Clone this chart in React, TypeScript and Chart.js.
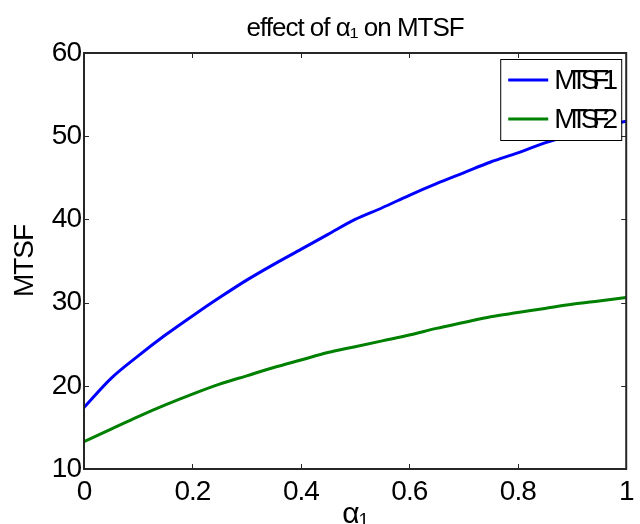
import React, { useEffect, useRef } from "react";
import { Chart, registerables } from "chart.js";

Chart.register(...registerables);

const alphaValues = [0, 0.05, 0.1, 0.15, 0.2, 0.25, 0.3, 0.35, 0.4, 0.45, 0.5, 0.55, 0.6, 0.65, 0.7, 0.75, 0.8, 0.85, 0.9, 0.95, 1.0];
const mtsf1 = [17.4, 20.9, 23.6, 26.1, 28.4, 30.6, 32.7, 34.6, 36.4, 38.2, 40.0, 41.4, 42.9, 44.3, 45.6, 46.9, 48.0, 49.2, 50.2, 51.2, 51.8];
const mtsf2 = [13.3, 14.8, 16.3, 17.7, 19.0, 20.2, 21.2, 22.2, 23.1, 24.0, 24.7, 25.4, 26.1, 26.9, 27.6, 28.3, 28.8, 29.3, 29.8, 30.2, 30.6];
const xTicks = [0, 0.2, 0.4, 0.6, 0.8, 1];
const yTicks = [10, 20, 30, 40, 50, 60];
const seriesLabels = ["MTSF1", "MTSF2"];
const seriesColors = ["#0000FF", "#008000"];
const chartTitle = "effect of α\u2081 on MTSF";
const xTitle = "α\u2081";
const yTitle = "MTSF";

const FONT = "'Liberation Sans', Arial, Helvetica, sans-serif";
const AXIS_COLOR = "#262626";

const condense = {
  id: "condense",
  beforeDraw(chart: any) {
    (chart.ctx as any).letterSpacing = "-1px";
  },
  afterDraw(chart: any) {
    (chart.ctx as any).letterSpacing = "0px";
  },
};

const frameAndTicks = {
  id: "frameAndTicks",
  afterDatasetsDraw(chart: any) {
    const { ctx, chartArea } = chart;
    const xs = chart.scales.x;
    const ys = chart.scales.y;
    const { left, right, top, bottom } = chartArea;
    ctx.save();
    ctx.strokeStyle = AXIS_COLOR;
    ctx.lineWidth = 1;
    const len = 5;
    ctx.beginPath();
    xTicks.forEach((v) => {
      const px = Math.round(xs.getPixelForValue(v)) + 0.5;
      ctx.moveTo(px, bottom);
      ctx.lineTo(px, bottom - len);
      ctx.moveTo(px, top);
      ctx.lineTo(px, top + len);
    });
    yTicks.forEach((v) => {
      const py = Math.round(ys.getPixelForValue(v)) + 0.5;
      ctx.moveTo(left, py);
      ctx.lineTo(left + len, py);
      ctx.moveTo(right, py);
      ctx.lineTo(right - len, py);
    });
    ctx.stroke();
    ctx.lineWidth = 2;
    ctx.strokeRect(left, top, right - left, bottom - top);
    ctx.restore();
  },
};

const boxLegend = {
  id: "boxLegend",
  afterDraw(chart: any) {
    const { ctx, chartArea } = chart;
    const boxRight = chartArea.right - 5;
    const boxLeft = boxRight - 121;
    const boxTop = chartArea.top + 6;
    const boxH = 81;
    ctx.save();
    ctx.fillStyle = "#ffffff";
    ctx.fillRect(boxLeft, boxTop, boxRight - boxLeft, boxH);
    ctx.strokeStyle = "#000000";
    ctx.lineWidth = 1;
    ctx.strokeRect(boxLeft + 0.5, boxTop + 0.5, boxRight - boxLeft, boxH);
    ctx.font = `28px ${FONT}`;
    (ctx as any).letterSpacing = "-7px";
    ctx.textBaseline = "middle";
    ctx.textAlign = "left";
    chart.data.datasets.forEach((ds: any, i: number) => {
      const y = boxTop + 21 + i * 39;
      ctx.strokeStyle = ds.borderColor;
      ctx.lineWidth = 3;
      ctx.beginPath();
      ctx.moveTo(boxLeft + 8, y);
      ctx.lineTo(boxLeft + 48, y);
      ctx.stroke();
      ctx.fillStyle = "#000000";
      ctx.fillText(ds.label, boxLeft + 54, y + 1);
    });
    ctx.restore();
  },
};

export default function App() {
  const canvasRef = useRef<HTMLCanvasElement | null>(null);

  useEffect(() => {
    document.body.style.margin = "0";
    const canvas = canvasRef.current;
    if (!canvas) return;
    const chart = new Chart(canvas, {
      type: "line",
      data: {
        datasets: [mtsf1, mtsf2].map((vals, i) => ({
          label: seriesLabels[i],
          data: alphaValues.map((a, j) => ({ x: a, y: vals[j] })),
          borderColor: seriesColors[i],
          backgroundColor: seriesColors[i],
          borderWidth: 3,
          pointRadius: 0,
          cubicInterpolationMode: "monotone" as const,
          fill: false,
        })),
      },
      options: {
        animation: false,
        responsive: true,
        maintainAspectRatio: false,
        devicePixelRatio: 1,
        layout: { padding: { left: 0, right: 9, top: 0, bottom: 0 } },
        plugins: {
          legend: { display: false },
          tooltip: { enabled: false },
          title: {
            display: true,
            fullSize: false,
            text: chartTitle,
            color: "#000000",
            font: { family: FONT, size: 26, weight: "normal", lineHeight: 1.2 },
            padding: { top: 13, bottom: 8.8 },
          },
        },
        scales: {
          x: {
            type: "linear",
            min: 0,
            max: 1,
            afterBuildTicks: (scale: any) => {
              scale.ticks = xTicks.map((v) => ({ value: v }));
            },
            afterFit: (scale: any) => {
              scale.height = 55;
            },
            grid: { display: false, drawTicks: false },
            border: { display: false },
            ticks: {
              color: "#000000",
              font: { family: FONT, size: 28 },
              padding: 6,
              maxRotation: 0,
              autoSkip: false,
              callback: (v: any) => String(v),
            },
            title: {
              display: true,
              text: xTitle,
              color: "#000000",
              font: { family: FONT, size: 30 },
              padding: { top: 0, bottom: -9 },
            },
          },
          y: {
            type: "linear",
            min: 10,
            max: 60,
            afterBuildTicks: (scale: any) => {
              scale.ticks = yTicks.map((v) => ({ value: v }));
            },
            afterFit: (scale: any) => {
              scale.width = 84;
            },
            grid: { display: false, drawTicks: false },
            border: { display: false },
            ticks: {
              color: "#000000",
              font: { family: FONT, size: 28 },
              padding: 3,
              autoSkip: false,
              callback: (v: any) => String(v),
            },
            title: {
              display: true,
              text: yTitle,
              color: "#000000",
              font: { family: FONT, size: 28 },
              padding: { top: 8, bottom: 0 },
            },
          },
        },
      },
      plugins: [condense, frameAndTicks, boxLegend],
    });
    return () => chart.destroy();
  }, []);

  return (
    <div style={{ position: "relative", width: 640, height: 524 }}>
      <canvas ref={canvasRef} />
    </div>
  );
}
